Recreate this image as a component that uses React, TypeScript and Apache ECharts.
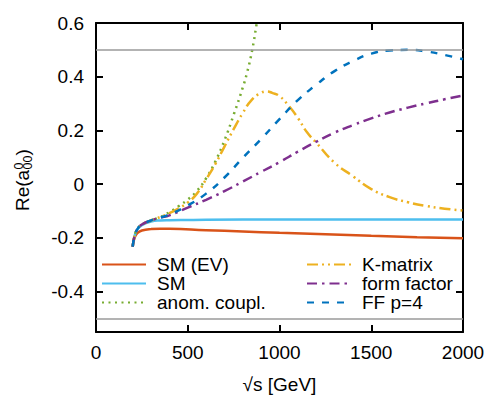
import React, { useEffect, useRef } from "react";
import * as echarts from "echarts";

const FONT = "'Liberation Sans', Arial, Helvetica, sans-serif";

const X_TICKS = [0, 500, 1000, 1500, 2000];
const Y_TICKS = [-0.4, -0.2, 0, 0.2, 0.4, 0.6];
const REF_LINES = [0.5, -0.5];

const SM_EV_X = [200, 210, 225, 250, 300, 350, 400, 600, 800, 1000, 1250, 1500, 1750, 2000];
const SM_EV_Y = [-0.232, -0.2, -0.182, -0.172, -0.167, -0.166, -0.166, -0.171, -0.176, -0.181, -0.186, -0.192, -0.197, -0.201];

const SM_X = [200, 210, 225, 250, 300, 350, 400, 600, 1000, 1500, 2000];
const SM_Y = [-0.232, -0.193, -0.168, -0.152, -0.139, -0.135, -0.134, -0.132, -0.131, -0.131, -0.131];

const ANOM_X = [200, 210, 225, 250, 300, 350, 400, 450, 500, 550, 600, 650, 700, 750, 800, 825, 850, 875, 900];
const ANOM_Y = [-0.232, -0.193, -0.168, -0.15, -0.135, -0.122, -0.104, -0.082, -0.057, -0.025, 0.022, 0.084, 0.163, 0.258, 0.36, 0.42, 0.495, 0.595, 0.7];

const KMAT_X = [200, 210, 225, 250, 300, 350, 400, 450, 500, 550, 600, 650, 700, 750, 800, 850, 900, 930, 960, 1000, 1050, 1100, 1150, 1200, 1300, 1400, 1500, 1600, 1700, 1800, 1900, 2000];
const KMAT_Y = [-0.232, -0.193, -0.168, -0.15, -0.135, -0.122, -0.108, -0.09, -0.068, -0.035, 0.018, 0.075, 0.14, 0.205, 0.265, 0.315, 0.34, 0.345, 0.34, 0.328, 0.292, 0.247, 0.193, 0.155, 0.08, 0.03, -0.018, -0.048, -0.067, -0.081, -0.091, -0.098];

const FORM_X = [200, 210, 225, 250, 300, 350, 400, 500, 600, 700, 800, 900, 1000, 1100, 1200, 1300, 1400, 1500, 1600, 1700, 1800, 1900, 2000];
const FORM_Y = [-0.232, -0.193, -0.168, -0.15, -0.135, -0.125, -0.116, -0.087, -0.058, -0.026, 0.01, 0.046, 0.082, 0.121, 0.158, 0.192, 0.22, 0.245, 0.267, 0.285, 0.301, 0.316, 0.33];

const FF4_X = [200, 210, 225, 250, 300, 350, 400, 500, 600, 700, 800, 900, 1000, 1100, 1200, 1300, 1400, 1500, 1600, 1700, 1800, 1900, 2000];
const FF4_Y = [-0.232, -0.193, -0.168, -0.15, -0.135, -0.124, -0.113, -0.079, -0.035, 0.025, 0.098, 0.168, 0.242, 0.313, 0.37, 0.421, 0.458, 0.486, 0.498, 0.5, 0.494, 0.481, 0.465];

const pairs = (xs: number[], ys: number[]) => xs.map((x, i) => [x, ys[i]]);

const LINE_W = 2.5;

export default function App() {
  const ref = useRef<HTMLDivElement>(null);
  useEffect(() => {
    if (!ref.current) return;
    const chart = echarts.init(ref.current, undefined, { renderer: "svg" });
    const mk = (name: string, xs: number[], ys: number[], color: string, type: any) => ({
      name,
      type: "line",
      data: pairs(xs, ys),
      symbol: "none",
      smooth: 0.5,
      clip: true,
      lineStyle: { color, width: LINE_W, type, cap: "butt" },
      itemStyle: { color },
    });
    const axisCommon = {
      axisLine: { show: true, onZero: false, lineStyle: { color: "#000", width: 2 } },
      axisTick: { show: true, inside: true, length: 7, lineStyle: { color: "#000", width: 2 } },
      splitLine: { show: false },
    };
    const legendCommon = {
      orient: "vertical",
      top: 255,
      padding: 0,
      itemGap: 0,
      itemWidth: 44,
      itemHeight: 14,
      selectedMode: false,
      itemStyle: { opacity: 0, borderWidth: 0 },
      textStyle: { color: "#000", fontSize: 19, fontFamily: FONT, lineHeight: 19, padding: [0, 0, 0, 6] },
    };
    const option: any = {
      animation: false,
      backgroundColor: "#fff",
      grid: { left: 96, right: 35, top: 23, bottom: 65, containLabel: false },
      xAxis: [
        {
          type: "value",
          min: 0,
          max: 2000,
          interval: 500,
          position: "bottom",
          ...axisCommon,
          axisLabel: {
            color: "#000",
            fontSize: 19,
            fontFamily: FONT,
            margin: 11,
            customValues: X_TICKS,
            formatter: (v: number) => String(v),
          },
          axisTick: { ...axisCommon.axisTick, customValues: X_TICKS },
          name: "√s [GeV]",
          nameLocation: "middle",
          nameGap: 43,
          nameTextStyle: { color: "#000", fontSize: 19, fontFamily: FONT },
        },
        {
          type: "value",
          min: 0,
          max: 2000,
          interval: 500,
          position: "top",
          ...axisCommon,
          axisTick: { ...axisCommon.axisTick, customValues: X_TICKS },
          axisLabel: { show: false },
        },
      ],
      yAxis: [
        {
          type: "value",
          min: -0.55,
          max: 0.6,
          position: "left",
          ...axisCommon,
          axisTick: { ...axisCommon.axisTick, customValues: Y_TICKS },
          axisLabel: {
            color: "#000",
            fontSize: 19,
            fontFamily: FONT,
            margin: 12,
            customValues: Y_TICKS,
            formatter: (v: number) => (Math.abs(v) < 1e-9 ? "0" : String(Math.round(v * 10) / 10)),
          },
        },
        {
          type: "value",
          min: -0.55,
          max: 0.6,
          position: "right",
          ...axisCommon,
          axisTick: { ...axisCommon.axisTick, customValues: Y_TICKS },
          axisLabel: { show: false },
        },
      ],
      legend: [
        { ...legendCommon, data: ["SM (EV)", "SM", "anom. coupl."], left: 101 },
        { ...legendCommon, data: ["K-matrix", "form factor", "FF p=4"], left: 306 },
      ],
      series: [
        {
          name: "ref",
          type: "line",
          data: [],
          markLine: {
            silent: true,
            symbol: "none",
            label: { show: false },
            lineStyle: { color: "#9a9a9a", type: "solid", width: 1.5 },
            data: REF_LINES.map((v) => ({ yAxis: v })),
          },
        },
        mk("SM (EV)", SM_EV_X, SM_EV_Y, "#D95319", "solid"),
        mk("SM", SM_X, SM_Y, "#4DBEEE", "solid"),
        mk("anom. coupl.", ANOM_X, ANOM_Y, "#77AC30", [2, 4.5]),
        mk("K-matrix", KMAT_X, KMAT_Y, "#EDB120", [11, 4, 2, 4, 2, 4]),
        mk("form factor", FORM_X, FORM_Y, "#7E2F8E", [10, 5, 2.5, 5]),
        mk("FF p=4", FF4_X, FF4_Y, "#0072BD", [7, 8]),
      ],
      graphic: [
        {
          type: "group",
          x: 22,
          y: 180,
          rotation: Math.PI / 2,
          silent: true,
          children: [
            { type: "text", x: -31, y: 0, style: { text: "Re(a", fontSize: 19, fontFamily: FONT, fill: "#000", textAlign: "left", textVerticalAlign: "middle", align: "left", verticalAlign: "middle" } },
            { type: "text", x: 10.5, y: -3, style: { text: "0", fontSize: 12.5, fontFamily: FONT, fill: "#000", textAlign: "left", textVerticalAlign: "middle", align: "left", verticalAlign: "middle" } },
            { type: "text", x: 10.5, y: 6, style: { text: "00", fontSize: 12.5, fontFamily: FONT, fill: "#000", textAlign: "left", textVerticalAlign: "middle", align: "left", verticalAlign: "middle" } },
            { type: "text", x: 24.5, y: 0, style: { text: ")", fontSize: 19, fontFamily: FONT, fill: "#000", textAlign: "left", textVerticalAlign: "middle", align: "left", verticalAlign: "middle" } },
          ],
        },
      ],
    };
    chart.setOption(option);
    return () => chart.dispose();
  }, []);
  return <div ref={ref} style={{ position: "absolute", left: 0, top: 0, width: 498, height: 399 }} />;
}
